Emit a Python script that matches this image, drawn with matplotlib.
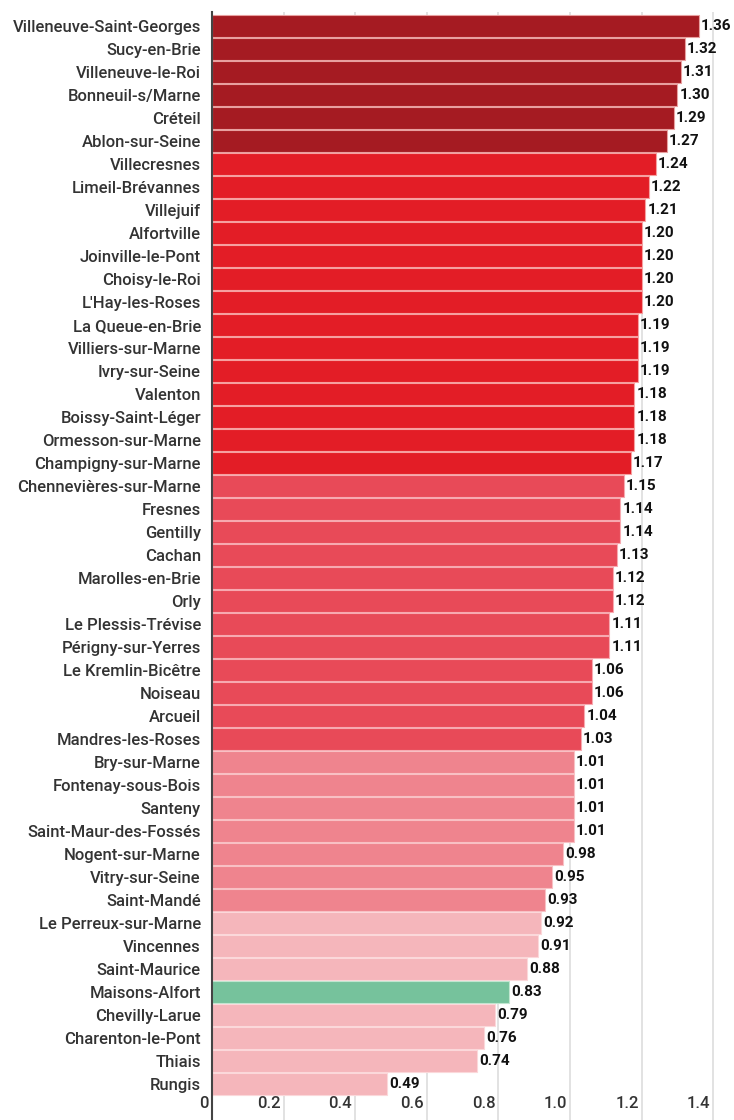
import matplotlib
matplotlib.use("Agg")
import matplotlib.pyplot as plt
import matplotlib.transforms as mtransforms

# communes, du plus haut au plus bas
communes = [
    "Villeneuve-Saint-Georges", "Sucy-en-Brie", "Villeneuve-le-Roi", "Bonneuil-s/Marne",
    "Créteil", "Ablon-sur-Seine", "Villecresnes", "Limeil-Brévannes", "Villejuif",
    "Alfortville", "Joinville-le-Pont", "Choisy-le-Roi", "L'Hay-les-Roses",
    "La Queue-en-Brie", "Villiers-sur-Marne", "Ivry-sur-Seine", "Valenton",
    "Boissy-Saint-Léger", "Ormesson-sur-Marne", "Champigny-sur-Marne",
    "Chennevières-sur-Marne", "Fresnes", "Gentilly", "Cachan", "Marolles-en-Brie",
    "Orly", "Le Plessis-Trévise", "Périgny-sur-Yerres", "Le Kremlin-Bicêtre",
    "Noiseau", "Arcueil", "Mandres-les-Roses", "Bry-sur-Marne", "Fontenay-sous-Bois",
    "Santeny", "Saint-Maur-des-Fossés", "Nogent-sur-Marne", "Vitry-sur-Seine",
    "Saint-Mandé", "Le Perreux-sur-Marne", "Vincennes", "Saint-Maurice",
    "Maisons-Alfort", "Chevilly-Larue", "Charenton-le-Pont", "Thiais", "Rungis",
]
valeurs = [
    1.36, 1.32, 1.31, 1.30, 1.29, 1.27, 1.24, 1.22, 1.21, 1.20, 1.20, 1.20, 1.20,
    1.19, 1.19, 1.19, 1.18, 1.18, 1.18, 1.17, 1.15, 1.14, 1.14, 1.13, 1.12, 1.12,
    1.11, 1.11, 1.06, 1.06, 1.04, 1.03, 1.01, 1.01, 1.01, 1.01, 0.98, 0.95, 0.93,
    0.92, 0.91, 0.88, 0.83, 0.79, 0.76, 0.74, 0.49,
]
# groupe de couleur de chaque barre
groupes = [0] * 6 + [1] * 14 + [2] * 12 + [3] * 7 + [4] * 3 + [5] + [4] * 4
ticks = [0, 0.2, 0.4, 0.6, 0.8, 1.0, 1.2, 1.4]
tick_labels = ["0", "0.2", "0.4", "0.6", "0.8", "1.0", "1.2", "1.4"]

palette = ["#a51b22", "#e31d26", "#e84a58", "#ef848e", "#f5b6bb", "#76c29c"]
bords = ["#e8a0a0", "#f6a0a0", "#f7a9b0", "#f8c0c4", "#fbd8da", "#c0e6d0"]

plt.rcParams["font.family"] = ["Roboto", "DejaVu Sans"]

fig = plt.figure(figsize=(7.34, 11.2), dpi=100)
ax = fig.add_axes([212 / 734, 0.0, 522 / 734, 1 - 12 / 1120])

y = list(range(len(communes)))
couleurs = [palette[g] for g in groupes]
couleurs_bord = [bords[g] for g in groupes]
ax.barh(y, valeurs, height=0.93, color=couleurs, edgecolor=couleurs_bord,
        linewidth=0.8, zorder=2)

for yi, v in zip(y, valeurs):
    ax.annotate(f"{v:.2f}", (v, yi), xytext=(1.5, 0), textcoords="offset points",
                va="center", ha="left", fontsize=11, fontweight="bold",
                color="#111111", zorder=3)

ax.set_xlim(0, 1.458)
ax.set_ylim(47.56, -0.61)
ax.set_yticks(y)
ax.set_yticklabels(communes, fontsize=12, color="#333333", fontweight="medium")
ax.tick_params(axis="y", length=0, pad=8)

ax.set_xticks(ticks)
ax.set_xticklabels(tick_labels, fontsize=12, color="#333333", fontweight="medium")
ax.tick_params(axis="x", length=0, pad=-17)
decal = mtransforms.ScaledTranslation(-3 / 100, 0, fig.dpi_scale_trans)
for lab in ax.get_xticklabels():
    lab.set_ha("right")
    lab.set_transform(lab.get_transform() + decal)

ax.grid(axis="x", color="#dddddd", linewidth=1.2, zorder=0)
for s in ["top", "right", "bottom"]:
    ax.spines[s].set_visible(False)
ax.spines["left"].set_color("#444444")
ax.spines["left"].set_linewidth(1.5)
ax.spines["left"].set_zorder(4)

fig.savefig("out.png", dpi=100)
